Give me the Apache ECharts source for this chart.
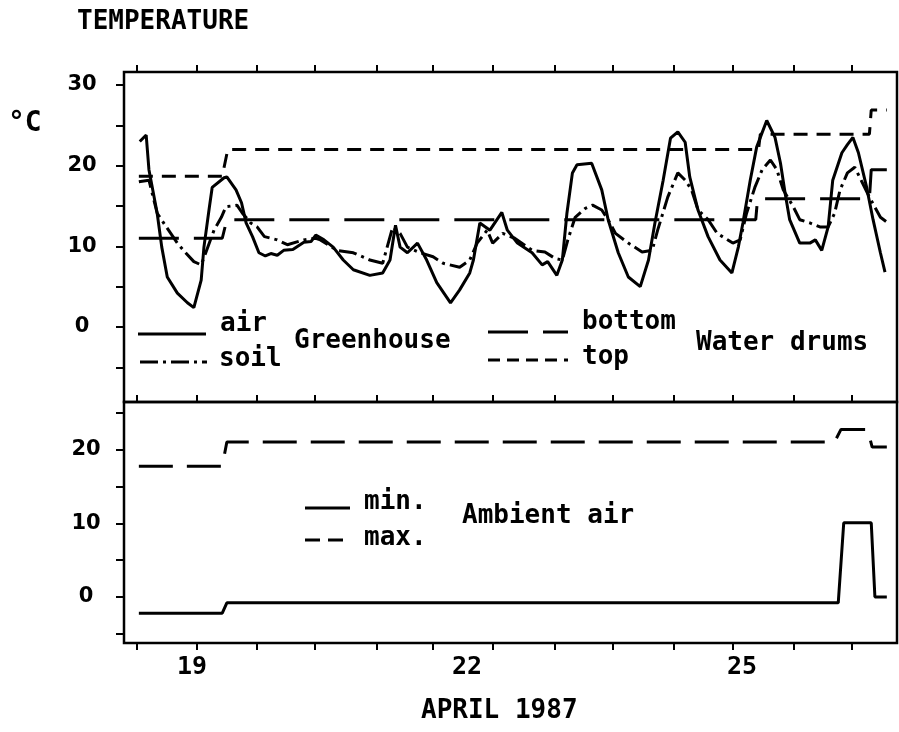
<!DOCTYPE html>
<html>
<head>
<meta charset="utf-8">
<script src="https://cdn.jsdelivr.net/npm/echarts@6/dist/echarts.min.js"></script>
<style>
html,body{margin:0;padding:0;background:#fff;}
#c{width:899px;height:732px;}
</style>
</head>
<body>
<div id="c"></div>
<script>
// ---- data (x in days of April 1987, y in °C) ----
const dayLabels = [19, 22, 25];
const xTicks = [18.40, 19.05, 19.71, 20.34, 21.01, 21.63, 22.28, 22.96, 23.59, 24.26, 24.90, 25.56, 26.20];
const topYLabels = [0, 10, 20, 30];
const topYTicks = [-5, 0, 5, 10, 15, 20, 25, 30];
const botYLabels = [0, 10, 20];
const botYTicks = [-5, 0, 5, 10, 15, 20, 25];

const airGreenhouse = [
  [18.43, 23.0], [18.50, 23.8], [18.53, 19.5], [18.62, 14.1], [18.67, 9.9], [18.73, 6.2], [18.84, 4.2],
  [18.95, 3.0], [19.02, 2.4], [19.10, 5.8], [19.13, 9.9], [19.19, 14.9], [19.22, 17.3], [19.35, 18.5],
  [19.38, 18.6], [19.48, 17.0], [19.54, 15.4], [19.59, 12.9], [19.66, 11.2], [19.73, 9.2], [19.80, 8.8],
  [19.86, 9.1], [19.93, 8.9], [20.00, 9.5], [20.10, 9.6], [20.22, 10.5], [20.30, 10.6], [20.35, 11.4],
  [20.44, 10.8], [20.54, 9.9], [20.65, 8.3], [20.76, 7.1], [20.94, 6.4], [21.08, 6.7], [21.16, 8.3],
  [21.22, 12.6], [21.27, 9.9], [21.35, 9.2], [21.46, 10.4], [21.56, 8.3], [21.67, 5.5], [21.82, 3.0],
  [21.92, 4.6], [22.03, 6.7], [22.07, 8.3], [22.14, 12.9], [22.25, 12.0], [22.38, 14.2], [22.44, 12.0],
  [22.55, 10.4], [22.71, 9.2], [22.82, 7.7], [22.88, 8.1], [22.98, 6.4], [23.04, 8.3], [23.09, 14.1],
  [23.15, 19.1], [23.20, 20.1], [23.36, 20.3], [23.47, 17.0], [23.54, 13.3], [23.65, 9.2], [23.76, 6.2],
  [23.89, 5.0], [23.98, 8.3], [24.05, 12.9], [24.14, 18.2], [24.22, 23.4], [24.30, 24.2], [24.38, 22.9],
  [24.43, 18.6], [24.52, 14.5], [24.63, 11.2], [24.76, 8.3], [24.89, 6.7], [24.96, 9.9], [25.01, 12.9],
  [25.09, 18.2], [25.16, 22.3], [25.27, 25.6], [25.36, 23.5], [25.42, 20.3], [25.47, 16.6], [25.52, 13.3],
  [25.63, 10.4], [25.74, 10.4], [25.80, 10.8], [25.87, 9.5], [25.94, 12.4], [25.99, 18.2], [26.09, 21.6],
  [26.15, 22.6], [26.21, 23.5], [26.27, 21.6], [26.36, 17.3], [26.43, 13.3], [26.51, 9.2], [26.56, 6.8]
];
const soilGreenhouse = [
  [18.42, 18.0], [18.53, 18.2], [18.62, 14.1], [18.72, 12.4], [18.84, 10.4], [18.93, 9.2], [19.02, 8.1],
  [19.10, 7.7], [19.15, 9.2], [19.24, 12.0], [19.32, 13.6], [19.37, 14.9], [19.49, 15.1], [19.55, 14.1],
  [19.64, 12.9], [19.71, 12.4], [19.79, 11.2], [19.93, 10.8], [20.04, 10.2], [20.22, 10.8], [20.35, 11.0],
  [20.40, 10.8], [20.58, 9.5], [20.76, 9.2], [20.94, 8.3], [21.08, 7.9], [21.19, 12.4], [21.27, 11.6],
  [21.35, 9.9], [21.49, 9.2], [21.63, 8.7], [21.74, 7.9], [21.92, 7.4], [22.03, 8.3], [22.11, 10.4],
  [22.22, 12.0], [22.28, 10.4], [22.39, 11.6], [22.52, 11.0], [22.71, 9.5], [22.85, 9.3], [22.96, 8.5],
  [23.04, 8.3], [23.10, 10.8], [23.18, 13.6], [23.29, 14.7], [23.37, 15.1], [23.47, 14.5], [23.54, 13.3],
  [23.62, 11.6], [23.76, 10.4], [23.91, 9.3], [24.02, 9.5], [24.08, 12.0], [24.19, 16.1], [24.30, 19.1],
  [24.38, 18.2], [24.45, 17.0], [24.52, 14.5], [24.63, 13.3], [24.73, 11.6], [24.90, 10.4], [24.98, 10.8],
  [25.05, 14.1], [25.14, 17.3], [25.22, 19.5], [25.31, 20.7], [25.38, 19.5], [25.45, 17.0], [25.56, 14.9],
  [25.63, 13.3], [25.74, 12.9], [25.85, 12.4], [25.94, 12.4], [26.01, 14.1], [26.07, 17.0], [26.15, 19.1],
  [26.23, 19.8], [26.39, 16.1], [26.51, 13.6], [26.58, 13.0]
];
const drumBottom = [
  [18.42, 11.0], [19.33, 11.0], [19.38, 13.3], [25.15, 13.3], [25.17, 15.9], [26.39, 15.9], [26.41, 19.5], [26.58, 19.5]
];
const drumTop = [
  [18.42, 18.7], [19.33, 18.7], [19.39, 22.0], [25.18, 22.0], [25.20, 23.9], [26.39, 23.9], [26.41, 26.9], [26.58, 26.9]
];
const ambientMin = [
  [18.42, -2.2], [19.33, -2.2], [19.38, -0.8], [26.05, -0.8], [26.11, 10.1], [26.41, 10.1], [26.45, 0.0], [26.58, 0.0]
];
const ambientMax = [
  [18.42, 17.8], [19.33, 17.8], [19.38, 21.1], [26.01, 21.1], [26.08, 22.8], [26.37, 22.8], [26.42, 20.4], [26.58, 20.4]
];

// ---- styling ----
const X_MIN = 18.258, X_MAX = 26.691;
const INK = '#000';
const monoFont = '"DejaVu Sans Mono", monospace';
const DASH_SOIL = [18, 5, 3, 5];
const DASH_BOTTOM = [40, 15];
const DASH_TOP = [14, 9];
const DASH_MAX = [34, 14];
const LW = 3;

const chart = echarts.init(document.getElementById('c'), null, {renderer: 'canvas'});

function xAx(grid, pos, inside, showLabels) {
  return {
    type: 'value', gridIndex: grid, position: pos, min: X_MIN, max: X_MAX,
    axisLine: {show: false, onZero: false}, splitLine: {show: false},
    axisTick: {show: true, inside: inside, length: 7, customValues: xTicks, lineStyle: {color: INK, width: 2}},
    axisLabel: showLabels ? {
      show: true, customValues: dayLabels, margin: 12, color: INK,
      fontFamily: monoFont, fontWeight: 'bold', fontSize: 25
    } : {show: false}
  };
}
function yAx(grid, min, max, ticks, labels, margin) {
  return {
    type: 'value', gridIndex: grid, min: min, max: max,
    axisLine: {show: false, onZero: false}, splitLine: {show: false},
    axisTick: {show: true, inside: false, length: 8, customValues: ticks, lineStyle: {color: INK, width: 2}},
    axisLabel: {
      show: true, customValues: labels, margin: margin, align: 'center', color: INK,
      fontFamily: '"DejaVu Sans", sans-serif', fontWeight: 'bold', fontSize: 21
    }
  };
}
function line(name, data, xi, yi, dash) {
  return {
    name: name, type: 'line', data: data, xAxisIndex: xi, yAxisIndex: yi,
    showSymbol: false, symbol: 'none', smooth: false, silent: true,
    lineStyle: {color: INK, width: LW, type: dash || 'solid', cap: 'butt'},
    z: 3
  };
}
function txt(s, x, y, size) {
  return {type: 'text', x: x, y: y, silent: true,
    style: {text: s, fill: INK, font: 'bold ' + (size || 26) + 'px ' + monoFont, textAlign: 'left', textVerticalAlign: 'middle'}};
}
function seg(x1, y1, x2, y2, dash) {
  return {type: 'line', silent: true, shape: {x1: x1, y1: y1, x2: x2, y2: y2},
    style: {stroke: INK, lineWidth: LW, lineDash: dash || null, lineCap: 'butt'}};
}

chart.setOption({
  animation: false,
  backgroundColor: '#fff',
  grid: [
    {left: 124, right: 2, top: 72, height: 330, show: true, borderColor: INK, borderWidth: 2.5, backgroundColor: 'transparent'},
    {left: 124, right: 2, top: 402, height: 241, show: true, borderColor: INK, borderWidth: 2.5, backgroundColor: 'transparent'}
  ],
  xAxis: [
    xAx(0, 'bottom', true, false),
    xAx(0, 'top', false, false),
    xAx(1, 'bottom', false, true)
  ],
  yAxis: [
    yAx(0, -9.30, 31.61, topYTicks, topYLabels, 42),
    yAx(1, -6.26, 26.53, botYTicks, botYLabels, 38)
  ],
  series: [
    line('air', airGreenhouse, 0, 0),
    line('soil', soilGreenhouse, 0, 0, DASH_SOIL),
    line('bottom', drumBottom, 0, 0, DASH_BOTTOM),
    line('top', drumTop, 0, 0, DASH_TOP),
    line('min.', ambientMin, 2, 1),
    line('max.', ambientMax, 2, 1, DASH_MAX)
  ],
  graphic: [
    txt('TEMPERATURE', 77, 22),
    txt('°C', 8, 124, 28),
    seg(138, 334, 206, 334),
    txt('air', 220, 324),
    seg(140, 362, 207, 362, DASH_SOIL),
    txt('soil', 219, 359),
    txt('Greenhouse', 294, 341),
    seg(488, 332, 568, 332, DASH_BOTTOM),
    txt('bottom', 582, 322),
    seg(488, 360, 568, 360, [12, 7]),
    txt('top', 582, 357),
    txt('Water drums', 696, 343),
    seg(305, 508, 350, 508),
    txt('min.', 364, 502),
    seg(305, 540, 350, 540, [15, 8]),
    txt('max.', 364, 538),
    txt('Ambient air', 462, 516),
    txt('APRIL 1987', 421, 711)
  ]
});
</script>
</body>
</html>
